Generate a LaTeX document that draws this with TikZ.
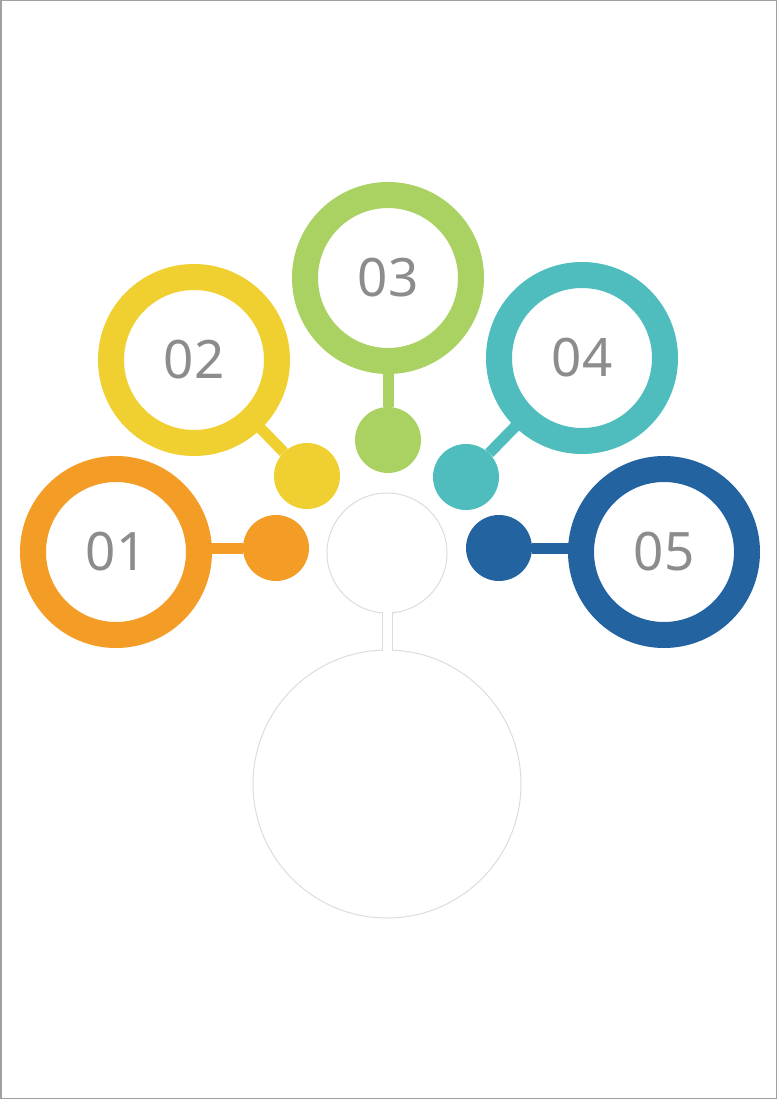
\documentclass[tikz,border=0pt]{standalone}
\usepackage{fontspec}
\setmainfont{Noto Sans}
\definecolor{cOrange}{HTML}{F39D26}
\definecolor{cYellow}{HTML}{F0CF31}
\definecolor{cGreen}{HTML}{AAD262}
\definecolor{cTeal}{HTML}{4FBDBD}
\definecolor{cBlue}{HTML}{2263A0}
\definecolor{cText}{HTML}{8C8C8C}
\definecolor{cOutline}{HTML}{DCDCDC}
\definecolor{cFrame}{HTML}{A0A0A0}
\tikzset{
  ring/.style={circle, draw=#1, fill=white, line width=26pt, minimum size=166pt, inner sep=0pt,
    text=cText, font=\fontsize{53}{53}\selectfont},
  dot/.style={circle, fill=#1, minimum size=66pt, inner sep=0pt},
  link/.style={draw=#1, line width=11pt},
  outline/.style={draw=cOutline, line width=1pt},
}
\begin{document}
\begin{tikzpicture}[x=1pt,y=-1pt]
\useasboundingbox (0,0) rectangle (777,1099);
\draw[cFrame, line width=1.5pt] (0.75,0.75) rectangle (776.25,1098.25);
% gray outline figure
\node[circle, outline, minimum size=120pt, inner sep=0pt] (small) at (387,553) {};
\node[circle, outline, minimum size=268pt, inner sep=0pt] (big) at (387,784) {};
\fill[white] (382.5,600) rectangle (391.5,660);
\draw[outline] (382,612) -- (382,651);
\draw[outline] (392,612) -- (392,651);
% dots
\node[dot=cOrange] (d1) at (276,548) {};
\node[dot=cYellow] (d2) at (307,476) {};
\node[dot=cGreen]  (d3) at (388,440) {};
\node[dot=cTeal]   (d4) at (466,477) {};
\node[dot=cBlue]   (d5) at (499,548) {};
% ring centres
\coordinate (c1) at (116,552);
\coordinate (c2) at (194,360);
\coordinate (c3) at (388,278);
\coordinate (c4) at (582,358);
\coordinate (c5) at (664,552);
% connectors
\draw[link=cOrange] (c1 |- d1) -- (d1);
\draw[link=cYellow] (c2) -- (d2);
\draw[link=cGreen]  (c3) -- (d3);
\draw[link=cTeal]   (c4) -- (d4);
\draw[link=cBlue]   (c5 |- d5) -- (d5);
% rings
\node[ring=cOrange] (r1) at (c1) {01};
\node[ring=cYellow] (r2) at (c2) {02};
\node[ring=cGreen]  (r3) at (c3) {03};
\node[ring=cTeal]   (r4) at (c4) {04};
\node[ring=cBlue]   (r5) at (c5) {05};
\end{tikzpicture}
\end{document}
